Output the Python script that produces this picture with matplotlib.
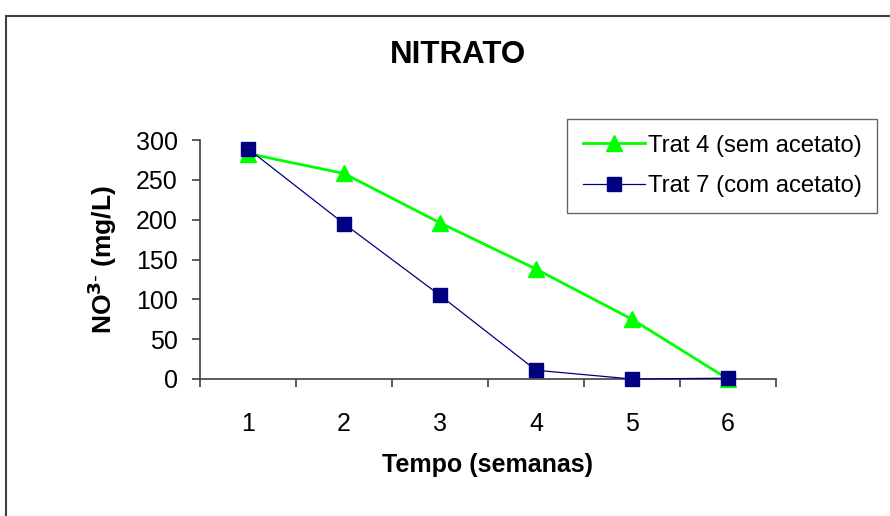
import matplotlib
matplotlib.use("Agg")
import matplotlib.pyplot as plt
from matplotlib.patches import Rectangle
from matplotlib.ticker import FixedLocator, NullFormatter, FixedFormatter

plt.rcParams['font.family'] = ['Liberation Sans', 'DejaVu Sans']

# Weekly nitrate concentration (mg/L)
semanas = ["1", "2", "3", "4", "5", "6"]
trat4_sem_acetato = [283, 258, 196, 138, 75, 0]
trat7_com_acetato = [289, 195, 105, 11, 0, 1]
y_ticks = [0, 50, 100, 150, 200, 250, 300]

fig = plt.figure(figsize=(8.9, 5.16), dpi=100)
ax = fig.add_axes([200 / 890, 1 - 379 / 516, 576 / 890, 239 / 516])

x = list(range(len(semanas)))
ax.plot(x, trat4_sem_acetato, color="#00FF00", lw=2.0, marker="^",
        markersize=11, markeredgecolor="#00FF00", label="Trat 4 (sem acetato)",
        clip_on=False, zorder=3)
ax.plot(x, trat7_com_acetato, color="#000080", lw=0.9, marker="s",
        markersize=9.5, markeredgecolor="#000080", label="Trat 7 (com acetato)",
        clip_on=False, zorder=4)

ax.set_xlim(-0.5, len(semanas) - 0.5)
ax.set_ylim(0, 300)

# category boundaries carry the ticks, labels sit at the centres
ax.xaxis.set_major_locator(FixedLocator([i - 0.5 for i in range(len(semanas) + 1)]))
ax.xaxis.set_major_formatter(NullFormatter())
ax.xaxis.set_minor_locator(FixedLocator(x))
ax.xaxis.set_minor_formatter(FixedFormatter(semanas))
ax.tick_params(axis="x", which="major", direction="out", length=6, width=1.2,
               color="#404040")
ax.tick_params(axis="x", which="minor", length=0, pad=24, labelsize=18)

ax.set_yticks(y_ticks)
ax.tick_params(axis="y", direction="out", length=6, width=1.2, color="#404040",
               pad=10, labelsize=18)

for side in ("top", "right"):
    ax.spines[side].set_visible(False)
for side in ("left", "bottom"):
    ax.spines[side].set_color("#404040")
    ax.spines[side].set_linewidth(1.2)

ax.set_xlabel("Tempo (semanas)", fontsize=18, fontweight="bold", labelpad=12)
ax.set_ylabel(r"NO$^{\mathbf{3\text{-}}}$ (mg/L)", fontsize=19, fontweight="bold",
              labelpad=12)

fig.text(458 / 890, 1 - 55 / 516, "NITRATO", ha="center", va="center",
         fontsize=22.5, fontweight="bold")

leg = ax.legend(loc="upper left", bbox_to_anchor=(567 / 890, 1 - 119 / 516),
                bbox_transform=fig.transFigure, fontsize=17.2, frameon=True,
                fancybox=False, edgecolor="#404040", handlelength=2.6,
                borderpad=0.66, labelspacing=0.78, handletextpad=0.12,
                borderaxespad=0)
leg.get_frame().set_linewidth(1.0)

# outer chart frame (only top and left edges fall inside the image)
fig.patches.append(Rectangle((6 / 890, -0.1), 1.2, 1 - 16 / 516 + 0.1,
                             transform=fig.transFigure, fill=False,
                             edgecolor="#404040", lw=1.5))

fig.savefig("out.png", dpi=100)
